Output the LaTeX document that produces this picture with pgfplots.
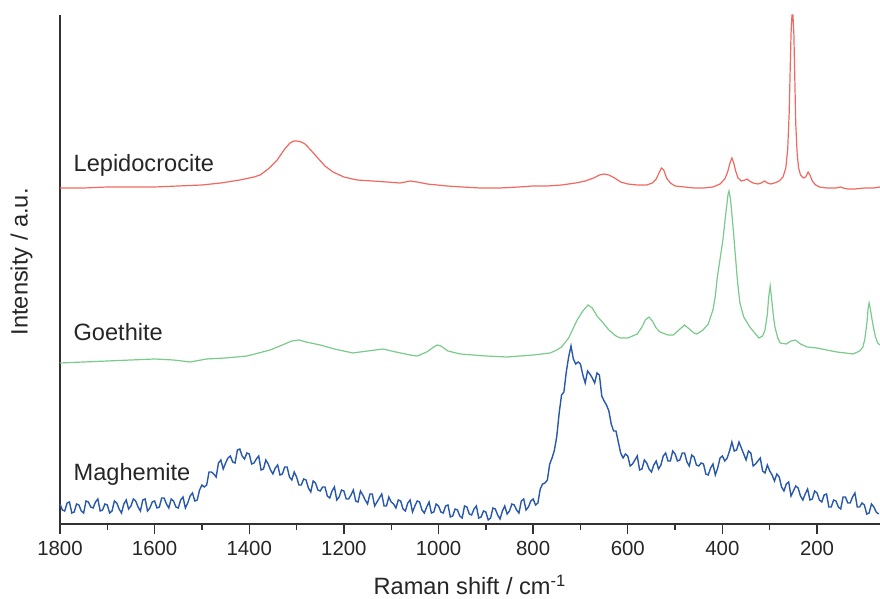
\documentclass[border=0pt]{standalone}
\usepackage{fontspec}
\setmainfont{Liberation Sans}
\usepackage{pgfplots}
\pgfplotsset{compat=1.18}
\definecolor{lepred}{RGB}{240,104,94}
\definecolor{goegreen}{RGB}{122,202,140}
\definecolor{magblue}{RGB}{40,88,170}
\definecolor{axgray}{RGB}{50,50,50}

\begin{document}
\begin{tikzpicture}
\useasboundingbox (-30pt,-37.5pt) rectangle (410pt,262pt);
\begin{axis}[
    scale only axis, width=410pt, height=254.5pt,
    at={(0,0)}, anchor=south west,
    x dir=reverse,
    xmin=67, xmax=1800, ymin=0, ymax=509,
    axis x line*=bottom, axis y line*=left,
    axis line style={-, line width=0.7pt, axgray},
    ytick=\empty,
    xtick={200,400,...,1800},
    minor x tick num=1,
    tick align=outside,
    major tick length=5pt, minor tick length=3pt,
    every tick/.style={line width=0.7pt, axgray},
    /pgf/number format/assume math mode=true,
    /pgf/number format/1000 sep={},
    xticklabel style={font=\fontsize{10.2}{12}\selectfont, text=black!85},
    xlabel={Raman shift / cm\textsuperscript{-1}},
    ylabel={Intensity / a.u.},
    label style={font=\fontsize{11.8}{14}\selectfont, text=black!85},
    xlabel style={at={(axis description cs:0.5,0)}, anchor=base, inner sep=0pt, yshift=-35.5pt},
    ylabel style={at={(axis description cs:-0.033,0.515)}, anchor=south, inner sep=0pt},
    clip=false,
]
% Lepidocrocite
\addplot[lepred, line width=0.6pt] coordinates {
(1800,336) (1750,336) (1700,337) (1650,337) (1600,337) (1550,338) (1500,339)
(1460,341) (1420,344) (1390,347) (1377,349) (1360,355) (1341,364) (1325,375)
(1314,381) (1305,383) (1299,383) (1290,382) (1282,380) (1270,374) (1257,367)
(1240,358) (1223,352) (1200,347) (1172,344) (1140,343) (1109,342) (1081,341)
(1070,342) (1060,343) (1045,342) (1024,340) (982,338) (950,337) (912,336)
(870,336) (830,337) (800,338) (770,338) (740,339) (710,341) (690,343)
(672,346) (660,349) (650,350) (640,349) (628,346) (615,342) (600,340)
(580,339) (560,339) (548,341) (540,345) (534,351) (529,356) (524,354)
(518,346) (510,341) (500,338) (480,337) (460,336) (440,336) (420,337)
(405,340) (395,345) (389,352) (384,361) (380,366) (376,361) (372,353)
(367,346) (360,343) (352,344) (348,345) (343,343) (335,341) (325,340)
(318,341) (311,343) (305,341) (298,340) (290,341) (280,343) (272,347)
(266,356) (262,375) (259,410) (257,450) (255,490) (253,509) (251,509)
(249,490) (247,445) (245,400) (242,370) (239,356) (235,349) (229,346)
(224,347) (219,352) (215,349) (210,343) (203,339) (195,337) (180,336)
(160,336) (150,337) (145,336) (135,335) (120,335) (100,336) (80,336) (67,337)
};
% Goethite
\addplot[goegreen, line width=0.6pt] coordinates {
(1800,161) (1750,162) (1700,163) (1650,164) (1600,165) (1560,164) (1525,162)
(1490,165) (1450,166) (1405,168) (1380,171) (1356,174) (1330,179) (1310,183)
(1295,184) (1280,182) (1250,179) (1220,175) (1181,171) (1150,173) (1117,175)
(1090,172) (1060,169) (1045,168) (1025,172) (1010,177) (1003,179) (995,178)
(980,173) (954,170) (900,168) (855,167) (800,169) (764,171) (750,174)
(740,177) (725,186) (715,196) (707,204) (695,213) (684,219) (675,216)
(665,208) (652,201) (640,194) (625,188) (616,186) (600,186) (590,188)
(580,190) (570,197) (563,204) (555,207) (548,203) (540,196) (532,192)
(515,189) (504,189) (492,194) (480,199) (470,195) (460,191) (454,190)
(441,194) (430,200) (420,214) (415,228) (411,246) (405,265) (399,284)
(393,310) (388,330) (386,333) (383,325) (380,310) (377,294) (372,265)
(368,242) (363,221) (355,207) (342,197) (330,190) (323,186) (315,188)
(310,194) (305,210) (302,228) (299,238) (296,225) (292,207) (289,197)
(283,186) (278,181) (265,180) (255,183) (246,184) (235,180) (221,177)
(200,176) (180,174) (158,172) (140,171) (124,170) (110,173) (103,177)
(99,185) (96,196) (94,204) (92,216) (90,221) (87,214) (84,205) (81,197)
(77,188) (72,181) (67,179)
};
% Maghemite
\addplot[magblue, line width=0.7pt] coordinates {
(1800,20) (1795,14) (1790,13) (1785,21) (1780,22) (1775,11) (1770,12) (1765,20)
(1760,19) (1755,13) (1750,11) (1745,23) (1740,22) (1735,17) (1730,16) (1725,22)
(1720,25) (1715,13) (1710,14) (1705,20) (1700,19) (1695,11) (1690,13) (1685,23)
(1680,21) (1675,15) (1670,11) (1665,20) (1660,24) (1655,15) (1650,18) (1645,25)
(1640,23) (1635,17) (1630,13) (1625,24) (1620,25) (1615,13) (1610,16) (1605,22)
(1600,23) (1595,16) (1590,17) (1585,26) (1580,26) (1575,20) (1570,16) (1565,25)
(1560,23) (1555,17) (1550,16) (1545,24) (1540,27) (1535,16) (1530,21) (1525,28)
(1520,31) (1515,23) (1510,24) (1505,34) (1500,39) (1495,37) (1490,39) (1485,52)
(1480,52) (1475,50) (1470,47) (1465,61) (1460,64) (1455,55) (1450,61) (1445,66)
(1440,68) (1435,62) (1430,61) (1425,74) (1420,75) (1415,68) (1410,65) (1405,71)
(1400,70) (1395,60) (1390,61) (1385,65) (1380,68) (1375,54) (1370,55) (1365,64)
(1360,60) (1355,54) (1350,50) (1345,56) (1340,59) (1335,49) (1330,50) (1325,57)
(1320,57) (1315,47) (1310,44) (1305,52) (1300,47) (1295,39) (1290,39) (1285,45)
(1280,44) (1275,36) (1270,32) (1265,43) (1260,41) (1255,34) (1250,33) (1245,37)
(1240,37) (1235,28) (1230,26) (1225,33) (1220,37) (1215,24) (1210,27) (1205,34)
(1200,33) (1195,25) (1190,25) (1185,29) (1180,34) (1175,23) (1170,22) (1165,33)
(1160,29) (1155,24) (1150,20) (1145,30) (1140,30) (1135,18) (1130,22) (1125,26)
(1120,30) (1115,18) (1110,18) (1105,27) (1100,22) (1095,20) (1090,16) (1085,24)
(1080,23) (1075,15) (1070,13) (1065,21) (1060,24) (1055,12) (1050,18) (1045,23)
(1040,22) (1035,14) (1030,11) (1025,17) (1020,22) (1015,11) (1010,12) (1005,20)
(1000,18) (995,12) (990,11) (985,18) (980,19) (975,7) (970,8) (965,15)
(960,14) (955,8) (950,6) (945,18) (940,17) (935,10) (930,9) (925,15)
(920,18) (915,6) (910,7) (905,13) (900,12) (895,4) (890,6) (885,16)
(880,15) (875,9) (870,5) (865,13) (860,18) (855,10) (850,13) (845,20)
(840,19) (835,14) (830,11) (825,23) (820,25) (815,14) (810,17) (805,23)
(800,25) (795,19) (790,21) (785,35) (780,40) (775,41) (770,44) (765,60)
(760,66) (755,74) (750,88) (745,111) (740,129) (735,132) (730,152) (725,167)
(720,178) (715,165) (710,160) (705,162) (700,160) (695,149) (690,141) (685,153)
(680,150) (675,146) (670,141) (665,151) (660,149) (655,128) (650,123) (645,119)
(640,113) (635,100) (630,93) (625,93) (620,82) (615,71) (610,66) (605,70)
(600,68) (595,58) (590,60) (585,64) (580,68) (575,54) (570,55) (565,64)
(560,61) (555,55) (550,52) (545,59) (540,63) (535,55) (530,59) (525,68)
(520,71) (515,63) (510,63) (505,73) (500,70) (495,63) (490,64) (485,71)
(480,71) (475,62) (470,58) (465,69) (460,67) (455,59) (450,58) (445,61)
(440,60) (435,50) (430,49) (425,56) (420,60) (415,49) (410,56) (405,66)
(400,68) (395,63) (390,66) (385,73) (380,82) (375,73) (370,74) (365,82)
(360,76) (355,70) (350,64) (345,73) (340,71) (335,58) (330,60) (325,63)
(320,66) (315,53) (310,51) (305,59) (300,53) (295,49) (290,43) (285,50)
(280,47) (275,37) (270,33) (265,40) (260,42) (255,28) (250,33) (245,38)
(240,36) (235,28) (230,24) (225,30) (220,35) (215,24) (210,25) (205,33)
(200,31) (195,24) (190,22) (185,29) (180,30) (175,17) (170,17) (165,24)
(160,23) (155,17) (150,15) (145,27) (140,27) (135,21) (130,21) (125,27)
(120,31) (115,17) (110,17) (105,21) (100,19) (95,10) (90,11) (85,20)
(80,17) (75,12) (70,10)
};
\node[anchor=base west, inner sep=0pt, font=\fontsize{11.8}{14}\selectfont, text=black!85] at (axis cs:1772,352) {Lepidocrocite};
\node[anchor=base west, inner sep=0pt, font=\fontsize{11.8}{14}\selectfont, text=black!85] at (axis cs:1772,183) {Goethite};
\node[anchor=base west, inner sep=0pt, font=\fontsize{11.8}{14}\selectfont, text=black!85] at (axis cs:1772,43) {Maghemite};
\end{axis}
\end{tikzpicture}
\end{document}
